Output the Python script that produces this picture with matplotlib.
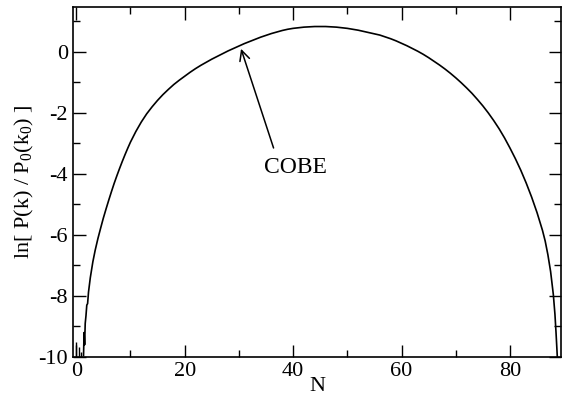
import matplotlib
matplotlib.use("Agg")
import matplotlib.pyplot as plt
from matplotlib.ticker import MultipleLocator

# curve: N vs ln[P(k)/P0(k0)]
n_vals = [1.35, 1.45, 1.55, 1.66, 1.8, 1.95, 2.1, 2.27, 2.6, 3.07, 3.5, 4.0,
          4.5, 5.0, 5.5, 6.0, 6.5, 7.0, 7.5, 8.0, 8.5, 9.0, 9.5, 10.0,
          11.0, 12.0, 13.0, 14.0, 15.0, 16.0, 17.0, 18.0, 19.0, 20.0,
          21.0, 22.0, 23.0, 24.0, 25.0, 26.0, 27.0, 28.0, 29.0, 30.0,
          31.0, 32.0, 33.0, 34.0, 35.0, 36.0, 37.0, 38.0, 39.0, 40.0,
          41.0, 42.0, 43.0, 44.0, 45.0, 46.0, 47.0, 48.0, 49.0, 50.0,
          51.0, 52.0, 53.0, 54.0, 55.0, 56.0, 57.0, 58.0, 59.0, 60.0,
          61.0, 62.0, 63.0, 64.0, 65.0, 66.0, 67.0, 68.0, 69.0, 70.0,
          71.0, 72.0, 73.0, 74.0, 75.0, 76.0, 77.0, 78.0, 79.0, 80.0,
          81.0, 82.0, 83.0, 84.0, 85.0, 86.0, 86.5, 87.0, 87.5, 88.0,
          88.3, 88.5, 88.65, 88.75]
ln_vals = [-9.95, -9.2, -9.6, -8.9, -8.65, -8.3, -8.25, -7.87, -7.4, -6.88, -6.5, -6.12,
           -5.78, -5.45, -5.15, -4.86, -4.58, -4.31, -4.06, -3.82, -3.59, -3.37, -3.16, -2.96,
           -2.61, -2.30, -2.03, -1.80, -1.59, -1.40, -1.23, -1.07, -0.93, -0.80,
           -0.67, -0.55, -0.44, -0.34, -0.24, -0.15, -0.06, 0.03, 0.11, 0.19,
           0.27, 0.34, 0.41, 0.48, 0.54, 0.60, 0.65, 0.70, 0.74, 0.77,
           0.79, 0.81, 0.82, 0.83, 0.83, 0.83, 0.82, 0.81, 0.79, 0.77,
           0.74, 0.71, 0.67, 0.63, 0.59, 0.55, 0.49, 0.43, 0.36, 0.28,
           0.20, 0.11, 0.02, -0.08, -0.19, -0.31, -0.43, -0.56, -0.70, -0.85,
           -1.01, -1.18, -1.36, -1.56, -1.77, -2.00, -2.25, -2.52, -2.82, -3.15,
           -3.50, -3.88, -4.30, -4.76, -5.27, -5.85, -6.20, -6.65, -7.20, -7.95,
           -8.60, -9.20, -9.70, -10.05]

# spiky noise at the very start
spike_n = [-0.05, 0.55, 0.95]
spike_top = [-9.5, -9.67, -9.85]

plt.rcParams['font.family'] = ['Liberation Serif', 'DejaVu Serif']
plt.rcParams['mathtext.fontset'] = 'custom'
plt.rcParams['mathtext.rm'] = 'Liberation Serif'
plt.rcParams['mathtext.it'] = 'Liberation Serif:italic'
plt.rcParams['axes.unicode_minus'] = False

fig = plt.figure(figsize=(5.7, 4.0), dpi=100)
ax = fig.add_axes([0.128, 0.1075, 0.857, 0.875])

ax.plot(n_vals, ln_vals, color='black', lw=1.2)
ax.vlines(spike_n, -10.0, spike_top, color='black', lw=1.0)

ax.annotate('', xy=(30.4, 0.1), xytext=(36.4, -3.15),
            arrowprops=dict(arrowstyle='->', color='black', lw=1.1,
                            mutation_scale=18, shrinkA=0, shrinkB=0))
ax.text(40.4, -3.8, 'COBE', fontsize=17, ha='center', va='center')

ax.set_xlim(-0.6, 89.5)
ax.set_ylim(-10.0, 1.47)
ax.xaxis.set_major_locator(MultipleLocator(20))
ax.xaxis.set_minor_locator(MultipleLocator(10))
ax.yaxis.set_major_locator(MultipleLocator(2))
ax.yaxis.set_minor_locator(MultipleLocator(1))
ax.tick_params(which='both', direction='in', top=True, right=True,
               labelsize=16, width=1.0)
ax.tick_params(which='major', length=9)
ax.tick_params(which='minor', length=5)
for s in ax.spines.values():
    s.set_linewidth(1.2)

ax.set_xlabel('N', fontsize=16, labelpad=-3)
ax.set_ylabel(r'ln[ P(k) / P$_\mathrm{0}$(k$_\mathrm{0}$) ]', fontsize=16, labelpad=2)

fig.savefig('out.png', dpi=100)
